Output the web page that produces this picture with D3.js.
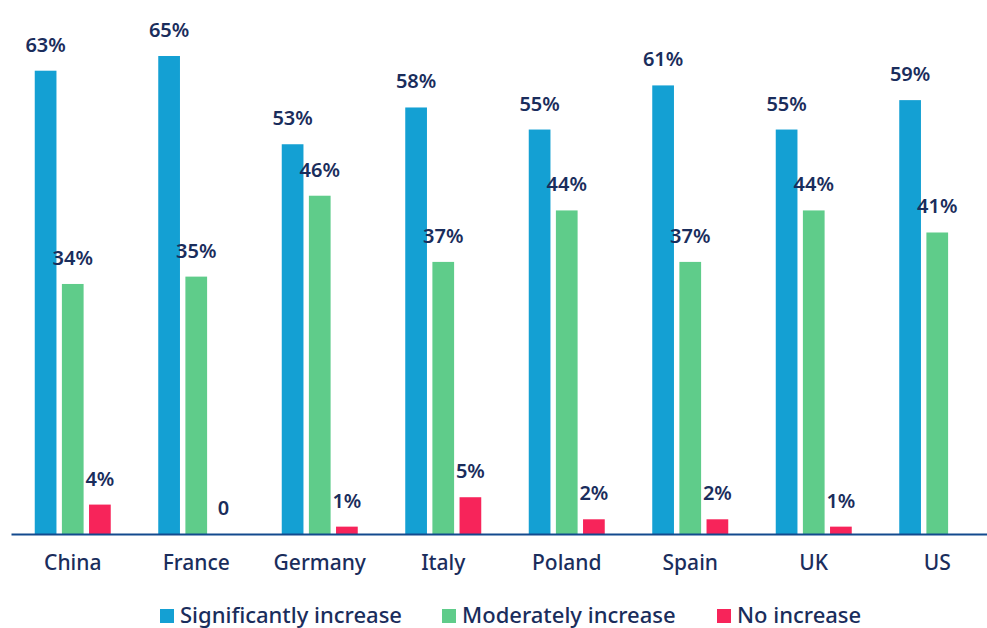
<!DOCTYPE html>
<html>
<head>
<meta charset="utf-8">
<script src="https://cdn.jsdelivr.net/npm/d3@7"></script>
<style>
  body { margin: 0; background: #fff; }
  svg text { font-family: "Noto Sans", "Open Sans", sans-serif; fill: #1a2d5c; }
</style>
</head>
<body>
<div id="chart"></div>
<script>
// data
var countries = ["China", "France", "Germany", "Italy", "Poland", "Spain", "UK", "US"];
var seriesNames = ["Significantly increase", "Moderately increase", "No increase"];
var significantly = [63, 65, 53, 58, 55, 61, 55, 59];
var moderately = [34, 35, 46, 37, 44, 37, 44, 41];
var noIncrease = [4, 0, 1, 5, 2, 2, 1, null];
var colors = ["#14a0d3", "#5fcc8a", "#f7245a"];

var w = 987, h = 628;
var baseline = 534;

var svg = d3.select("#chart")
  .append("svg")
  .attr("width", w)
  .attr("height", h);

// scales
var xScale = d3.scaleBand()
  .domain(countries)
  .range([11, 999]);

var xInner = d3.scaleBand()
  .domain(seriesNames)
  .range([0, 76])
  .paddingInner(0.2);

var yScale = d3.scaleLinear()
  .domain([0, 65])
  .range([baseline, 56]);

var allSeries = [significantly, moderately, noIncrease];
var rows = [];
allSeries.forEach(function(values, s) {
  values.forEach(function(v, i) {
    rows.push({ country: countries[i], series: seriesNames[s], value: v, color: colors[s] });
  });
});

function barX(d) {
  return xScale(d.country) + xScale.bandwidth() / 2 - 38 + xInner(d.series);
}

var shown = rows.filter(function(d) { return d.value !== null; });

// bars
svg.selectAll("rect.bar")
  .data(shown)
  .enter()
  .append("rect")
  .attr("class", "bar")
  .attr("x", barX)
  .attr("y", function(d) { return yScale(d.value); })
  .attr("width", xInner.bandwidth())
  .attr("height", function(d) { return baseline - yScale(d.value); })
  .attr("fill", function(d) { return d.color; });

// value labels
svg.selectAll("text.value")
  .data(shown)
  .enter()
  .append("text")
  .attr("class", "value")
  .attr("x", function(d) { return barX(d) + xInner.bandwidth() / 2; })
  .attr("y", function(d) { return yScale(d.value) - 19; })
  .attr("text-anchor", "middle")
  .style("font-size", "20px")
  .style("font-weight", "600")
  .text(function(d) { return d.value === 0 ? "0" : d.value + "%"; });

// x axis
var xAxis = svg.append("g")
  .attr("transform", "translate(0," + baseline + ")")
  .call(d3.axisBottom(xScale).tickSize(0).tickPadding(21));
xAxis.select(".domain")
  .attr("stroke", "#134a8e")
  .attr("stroke-width", 2);
xAxis.selectAll("text")
  .style("font-size", "21px")
  .style("font-weight", "500")
  .style("font-family", "'Noto Sans', 'Open Sans', sans-serif")
  .attr("fill", "#1a2d5c");

// legend (sits a little higher than the reference so descenders are not cut)
var legendX = [160, 442, 717];
var legend = svg.selectAll("g.legend")
  .data(seriesNames)
  .enter()
  .append("g")
  .attr("class", "legend")
  .attr("transform", function(d, i) { return "translate(" + legendX[i] + ",609)"; });

legend.append("rect")
  .attr("width", 14)
  .attr("height", 14)
  .attr("fill", function(d, i) { return colors[i]; });

legend.append("text")
  .attr("x", 20)
  .attr("y", 14)
  .style("font-size", "22px")
  .style("font-weight", "500")
  .text(function(d) { return d; });
</script>
</body>
</html>
